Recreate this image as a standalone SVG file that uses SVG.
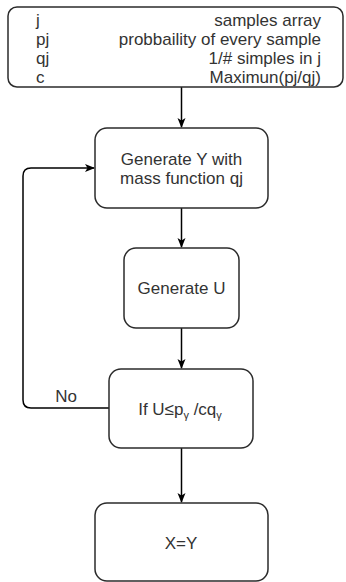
<svg xmlns="http://www.w3.org/2000/svg" width="346" height="582" viewBox="0 0 346 582">
  <style>
    .box { fill: #ffffff; stroke: #2b2b2b; stroke-width: 1.5; }
    .edge { fill: none; stroke: #000000; stroke-width: 1.5; }
    text { font-family: "Liberation Sans", Arial, sans-serif; font-size: 17px; fill: #333333; }
    .c { text-anchor: middle; }
    .r { text-anchor: end; }
  </style>
  <defs>
    <marker id="arrow" markerWidth="10" markerHeight="10" viewBox="0 0 10 10" refX="9" refY="5" orient="auto" markerUnits="userSpaceOnUse">
      <path d="M0,1 L10,5 L0,9 L2.5,5 z" fill="#000000"/>
    </marker>
  </defs>
  <rect width="346" height="582" fill="#ffffff"/>

  <g id="connectors">
    <path class="edge" d="M181.5,87 L181.5,127" marker-end="url(#arrow)"/>
    <path class="edge" d="M181.5,208 L181.5,247" marker-end="url(#arrow)"/>
    <path class="edge" d="M181.5,328 L181.5,368" marker-end="url(#arrow)"/>
    <path class="edge" d="M181.5,448 L181.5,502" marker-end="url(#arrow)"/>
    <path class="edge" d="M109,408 L31,408 Q23,408 23,400 L23,176 Q23,168 31,168 L94,168" marker-end="url(#arrow)"/>
    <text class="c" x="66" y="402">No</text>
  </g>

  <g id="node-vars">
    <rect class="box" x="8" y="7" width="335" height="80" rx="9" ry="9"/>
    <text x="36" y="25.5">j</text>
    <text x="36" y="45">pj</text>
    <text x="36" y="64">qj</text>
    <text x="36" y="83">c</text>
    <text class="r" x="321" y="25.5">samples array</text>
    <text class="r" x="321" y="45">probbaility of every sample</text>
    <text class="r" x="321" y="64">1/# simples in j</text>
    <text class="r" x="321" y="83">Maximun(pj/qj)</text>
  </g>

  <g id="node-generate-y">
    <rect class="box" x="95" y="128" width="173" height="80" rx="12" ry="12"/>
    <text class="c" x="181.5" y="165">Generate Y with</text>
    <text class="c" x="181.5" y="183.5">mass function qj</text>
  </g>

  <g id="node-generate-u">
    <rect class="box" x="124" y="248" width="115" height="80" rx="12" ry="12"/>
    <text class="c" x="181.5" y="294">Generate U</text>
  </g>

  <g id="node-test">
    <rect class="box" x="109" y="369" width="144" height="79" rx="12" ry="12"/>
    <text class="c" x="180" y="415">If U≤p<tspan font-size="11" dy="4">γ</tspan><tspan dy="-4"> /cq</tspan><tspan font-size="11" dy="4">γ</tspan></text>
  </g>

  <g id="node-result">
    <rect class="box" x="95" y="503" width="173" height="78" rx="12" ry="12"/>
    <text class="c" x="181" y="549">X=Y</text>
  </g>
</svg>
